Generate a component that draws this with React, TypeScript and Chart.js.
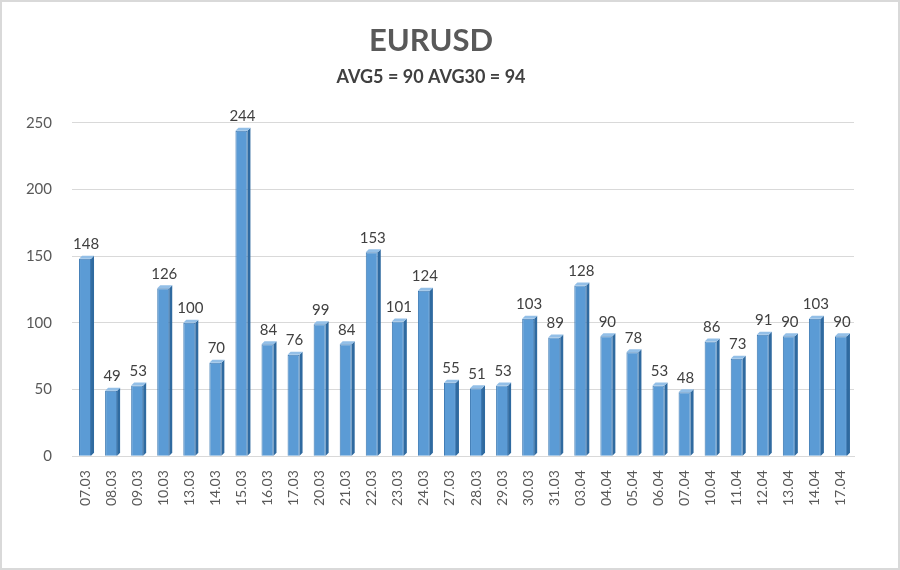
import { useEffect, useRef } from "react";
import { Chart, registerables } from "chart.js";

Chart.register(...registerables);

const days = [
  "07.03", "08.03", "09.03", "10.03", "13.03", "14.03", "15.03", "16.03", "17.03", "20.03",
  "21.03", "22.03", "23.03", "24.03", "27.03", "28.03", "29.03", "30.03", "31.03", "03.04",
  "04.04", "05.04", "06.04", "07.04", "10.04", "11.04", "12.04", "13.04", "14.04", "17.04",
];
const volatility = [
  148, 49, 53, 126, 100, 70, 244, 84, 76, 99,
  84, 153, 101, 124, 55, 51, 53, 103, 89, 128,
  90, 78, 53, 48, 86, 73, 91, 90, 103, 90,
];
const titleText = "EURUSD";
const subtitleText = "AVG5 = 90 AVG30 = 94";

const FONT = "Lato, 'Open Sans', sans-serif";

// fake 3d: side face, top face and value labels
const barDecor = {
  id: "barDecor",
  afterDatasetsDraw(chart: Chart) {
    const ctx = chart.ctx;
    const meta = chart.getDatasetMeta(0);
    const d = 3;
    ctx.save();
    meta.data.forEach((el: any, i: number) => {
      const { x, y, base, width } = el.getProps(["x", "y", "base", "width"], true);
      const r = x + width / 2;
      const l = x - width / 2;
      ctx.fillStyle = "#2f6aa0";
      ctx.beginPath();
      ctx.moveTo(r, y);
      ctx.lineTo(r + d, y - d);
      ctx.lineTo(r + d, base - d);
      ctx.lineTo(r, base);
      ctx.closePath();
      ctx.fill();
      ctx.fillStyle = "#93bfe7";
      ctx.beginPath();
      ctx.moveTo(l, y);
      ctx.lineTo(l + d, y - d);
      ctx.lineTo(r + d, y - d);
      ctx.lineTo(r, y);
      ctx.closePath();
      ctx.fill();
      ctx.fillStyle = "#404040";
      ctx.font = `15px ${FONT}`;
      ctx.textAlign = "center";
      ctx.textBaseline = "bottom";
      ctx.fillText(String(volatility[i]), x + 1, y - 7);
    });
    ctx.restore();
  },
};

export default function App() {
  const canvasRef = useRef<HTMLCanvasElement>(null);
  const chartRef = useRef<Chart | null>(null);

  useEffect(() => {
    const canvas = canvasRef.current;
    if (!canvas) return;
    if (chartRef.current) chartRef.current.destroy();

    chartRef.current = new Chart(canvas, {
      type: "bar",
      data: {
        labels: days,
        datasets: [
          {
            data: volatility,
            backgroundColor: (c: any) => {
              const el: any = c.element;
              if (!el || !Number.isFinite(el.x) || !Number.isFinite(el.width)) return "#5b9bd5";
              const g = c.chart.ctx.createLinearGradient(el.x - el.width / 2, 0, el.x + el.width / 2, 0);
              g.addColorStop(0, "#5295d3");
              g.addColorStop(0.5, "#7db3e5");
              g.addColorStop(1, "#5695d0");
              return g;
            },
            borderColor: "#3a78b3",
            borderWidth: 1,
            barPercentage: 0.46,
            categoryPercentage: 1,
          },
        ],
      },
      options: {
        responsive: false,
        animation: false,
        layout: { padding: { left: 6, right: 44, top: 6, bottom: 56 } },
        plugins: {
          legend: { display: false },
          tooltip: { enabled: false },
          title: {
            display: true,
            text: titleText,
            color: "#595959",
            font: { family: FONT, size: 31, weight: "bold" },
            padding: { top: 14, bottom: 7 },
          },
          subtitle: {
            display: true,
            text: subtitleText,
            color: "#404040",
            font: { family: FONT, size: 18, weight: "bold" },
            padding: { top: 0, bottom: 35 },
          },
        },
        scales: {
          x: {
            grid: { display: false },
            border: { display: true, color: "#d9d9d9" },
            ticks: {
              color: "#595959",
              font: { family: FONT, size: 14 },
              minRotation: 90,
              maxRotation: 90,
              padding: 6,
            },
          },
          y: {
            min: 0,
            max: 250,
            afterFit: (s: any) => {
              s.width = 64;
            },
            grid: { color: "#d9d9d9", drawTicks: false },
            border: { display: false },
            ticks: {
              stepSize: 50,
              color: "#595959",
              font: { family: FONT, size: 15 },
              padding: 20,
            },
          },
        },
      },
      plugins: [barDecor],
    });

    return () => {
      if (chartRef.current) {
        chartRef.current.destroy();
        chartRef.current = null;
      }
    };
  }, []);

  return (
    <div
      style={{
        position: "fixed",
        left: 0,
        top: 0,
        width: 900,
        height: 570,
        boxSizing: "border-box",
        border: "2px solid #d9d9d9",
        background: "#fff",
      }}
    >
      <canvas ref={canvasRef} width={896} height={566} />
    </div>
  );
}
